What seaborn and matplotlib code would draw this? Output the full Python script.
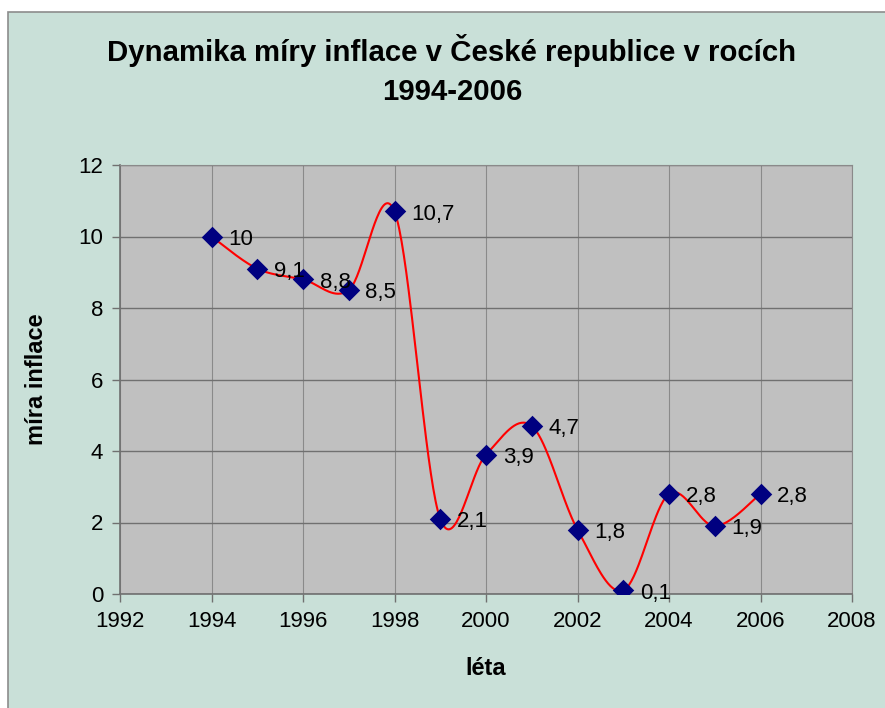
import numpy as np
import matplotlib
matplotlib.use("Agg")
import matplotlib.pyplot as plt
from matplotlib.patches import Rectangle
import seaborn as sns

# ----------------------------------------
# Data
# ----------------------------------------
years = [1994, 1995, 1996, 1997, 1998, 1999, 2000, 2001, 2002, 2003, 2004, 2005, 2006]
inflation = [10, 9.1, 8.8, 8.5, 10.7, 2.1, 3.9, 4.7, 1.8, 0.1, 2.8, 1.9, 2.8]
labels = ["10", "9,1", "8,8", "8,5", "10,7", "2,1", "3,9", "4,7", "1,8", "0,1", "2,8", "1,9", "2,8"]

x_ticks = [1992, 1994, 1996, 1998, 2000, 2002, 2004, 2006, 2008]
y_ticks = [0, 2, 4, 6, 8, 10, 12]


# ----------------------------------------
# Excel-style smoothed line (Bezier through the points)
# ----------------------------------------
def smooth_line(xs, ys, steps=40):
    p = np.column_stack([xs, ys]).astype(float)
    n = len(p)
    out = []
    for i in range(n - 1):
        p0 = p[i - 1] if i > 0 else p[i]
        p1 = p[i]
        p2 = p[i + 1]
        p3 = p[i + 2] if i + 2 < n else p[i + 1]
        c1 = p1 + (p2 - p0) / 6
        c2 = p2 - (p3 - p1) / 6
        t = np.linspace(0, 1, steps)[:, None]
        seg = ((1 - t) ** 3) * p1 + 3 * ((1 - t) ** 2) * t * c1 \
            + 3 * (1 - t) * (t ** 2) * c2 + (t ** 3) * p2
        out.append(seg if i == 0 else seg[1:])
    return np.vstack(out)


curve = smooth_line(years, inflation)

# ----------------------------------------
# Plot
# ----------------------------------------
sns.set_style("white")
plt.rcParams["font.family"] = ["Liberation Sans", "DejaVu Sans"]
plt.rcParams["text.color"] = "black"
plt.rcParams["axes.labelcolor"] = "black"
plt.rcParams["xtick.labelcolor"] = "black"
plt.rcParams["ytick.labelcolor"] = "black"

bg = "#C9E0D8"

fig = plt.figure(figsize=(8.85, 7.08), dpi=100)
fig.patch.set_facecolor("white")
fig.patches.append(Rectangle(
    (8 / 885, -0.1), 1.2, 1 - 12 / 708 + 0.1,
    transform=fig.transFigure, facecolor=bg,
    edgecolor="#8C8C8C", linewidth=1.2, zorder=-10
))

ax = fig.add_axes([120 / 885, 1 - 594 / 708, 732 / 885, 429 / 708])
ax.set_facecolor("#C0C0C0")

ax.plot(curve[:, 0], curve[:, 1], color="#FF0000", linewidth=1.5, zorder=3)

sns.scatterplot(
    x=years,
    y=inflation,
    marker="D",
    s=120,
    color="#000080",
    edgecolor="#000080",
    linewidth=0,
    ax=ax,
    zorder=4
)

for xv, yv, lab in zip(years, inflation, labels):
    ax.annotate(
        lab,
        (xv, yv),
        xytext=(12, -2),
        textcoords="offset points",
        ha="left",
        va="center",
        fontsize=16,
        color="black",
        zorder=5
    )

ax.set_xlim(1992, 2008)
ax.set_ylim(0, 12)
ax.set_xticks(x_ticks)
ax.set_yticks(y_ticks)
ax.tick_params(axis="both", labelsize=16, length=6, width=1, color="#707070",
               labelcolor="black", direction="out", pad=6, bottom=True, left=True)

ax.grid(True, axis="y", color="#707070", linewidth=1)
ax.grid(True, axis="x", color="#8A8A8A", linewidth=0.8)
ax.set_axisbelow(True)

for side in ["top", "right"]:
    ax.spines[side].set_visible(True)
    ax.spines[side].set_color("#8A8A8A")
    ax.spines[side].set_linewidth(0.8)
for side in ["left", "bottom"]:
    ax.spines[side].set_color("#707070")
    ax.spines[side].set_linewidth(1.2)

ax.set_xlabel("léta", fontsize=17, fontweight="bold", labelpad=18, color="black")
ax.set_ylabel("míra inflace", fontsize=17, fontweight="bold", labelpad=22, color="black")

fig.text(452 / 885, 1 - 70 / 708,
         "Dynamika míry inflace v České republice v rocích\n1994-2006",
         ha="center", va="center", fontsize=21.2, fontweight="bold",
         linespacing=1.5, color="black")

plt.savefig("out.png", dpi=100, facecolor=fig.get_facecolor())
plt.close()
